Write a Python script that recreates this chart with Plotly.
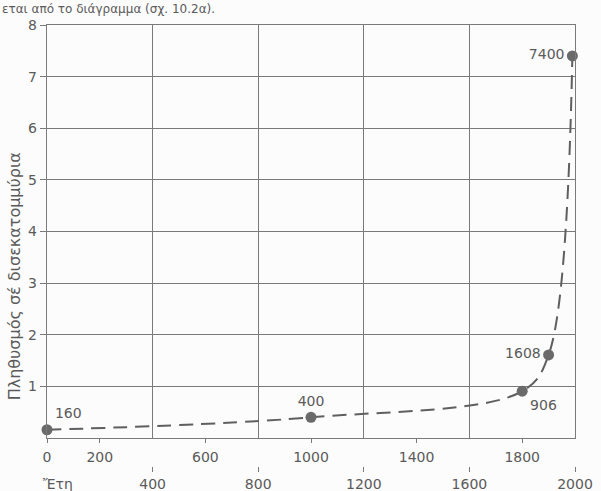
import plotly.graph_objects as go

# World population (millions) at selected years
years = [0, 1000, 1800, 1900, 1990]
population_millions = [160, 400, 906, 1608, 7400]
point_label_pos = ["top right", "top center", "bottom right", "middle left", "middle left"]

# Axis tick labels: upper row and lower (staggered) row
x_upper_ticks = [0, 200, 600, 1000, 1400, 1800]
x_lower_ticks = [400, 800, 1200, 1600, 2000]
y_ticks = [1, 2, 3, 4, 5, 6, 7, 8]

population_billions = [p / 1000 for p in population_millions]

INK = "#5a5a5a"
GRID = "#7a7a7a"
FONT = "DejaVu Sans"

fig = go.Figure()

fig.add_trace(go.Scatter(
    x=years,
    y=population_billions,
    mode="lines+markers+text",
    line=dict(color="#5f5f5f", width=2, dash="14px,8px", shape="spline", smoothing=1.0),
    marker=dict(size=11, color="#6a6a6a"),
    text=[str(p) for p in population_millions],
    textposition=point_label_pos,
    textfont=dict(family=FONT, size=14, color=INK),
    cliponaxis=False,
    showlegend=False,
))

# hidden traces to activate the two extra label axes
fig.add_trace(go.Scatter(x=[0, 2000], y=[0, 0], xaxis="x2", mode="markers",
                         marker=dict(opacity=0), showlegend=False, hoverinfo="skip"))
fig.add_trace(go.Scatter(x=[0, 2000], y=[0, 0], xaxis="x3", mode="markers",
                         marker=dict(opacity=0), showlegend=False, hoverinfo="skip"))

# plot area spans 25..471 px; the framed chart ends at 438 px
y_bottom = 0.074

fig.update_layout(
    width=601, height=491,
    margin=dict(l=47, r=26, t=25, b=20),
    paper_bgcolor="#fcfcfc",
    plot_bgcolor="#fcfcfc",
    font=dict(family=FONT, color=INK, size=14),
    xaxis=dict(
        range=[0, 2000],
        tickvals=x_lower_ticks,
        showticklabels=False,
        ticks="",
        showgrid=True, gridcolor=GRID, gridwidth=1.2,
        showline=True, linecolor=GRID, linewidth=1.4, mirror=True,
        zeroline=False,
        anchor="y",
        automargin=False,
    ),
    xaxis2=dict(
        range=[0, 2000],
        overlaying="x",
        anchor="free", position=y_bottom, side="bottom",
        tickvals=x_upper_ticks,
        ticktext=[str(v) for v in x_upper_ticks],
        ticks="outside", ticklen=4, tickcolor=GRID, tickwidth=1.2,
        ticklabelstandoff=2,
        showgrid=False, showline=False, zeroline=False,
        tickfont=dict(family=FONT, size=14, color=INK),
        automargin=False,
    ),
    xaxis3=dict(
        range=[0, 2000],
        overlaying="x",
        anchor="free", position=0.0112, side="bottom",
        tickvals=x_lower_ticks,
        ticktext=[str(v) for v in x_lower_ticks],
        ticks="outside", ticklen=5, tickcolor=GRID, tickwidth=1.2,
        showgrid=False, showline=False, zeroline=False,
        tickfont=dict(family=FONT, size=14, color=INK),
        automargin=False,
    ),
    yaxis=dict(
        range=[0, 8],
        domain=[y_bottom, 1],
        tickvals=y_ticks,
        ticktext=[str(v) for v in y_ticks],
        ticks="outside", ticklen=6, tickcolor=GRID, tickwidth=1.2,
        showgrid=True, gridcolor=GRID, gridwidth=1.2,
        showline=True, linecolor=GRID, linewidth=1.4, mirror=True,
        zeroline=False,
        tickfont=dict(family=FONT, size=14, color=INK),
        automargin=False,
    ),
    annotations=[
        dict(text="Πληθυσμός σέ δισεκατομμύρια", textangle=-90,
             xref="paper", yref="paper", x=-0.062, y=0.437,
             xanchor="center", yanchor="middle", showarrow=False,
             font=dict(family=FONT, size=16, color=INK)),
        dict(text="Ἔτη", xref="paper", yref="paper", x=0.021, y=-0.029,
             xanchor="center", yanchor="middle", showarrow=False,
             font=dict(family=FONT, size=14, color=INK)),
        dict(text="εται από το διάγραμμα (σχ. 10.2α).", xref="paper", yref="paper",
             x=-0.089, y=1.0, yshift=25, xanchor="left", yanchor="top", showarrow=False,
             font=dict(family=FONT, size=12, color=INK)),
    ],
)

fig.write_html("out.html")
